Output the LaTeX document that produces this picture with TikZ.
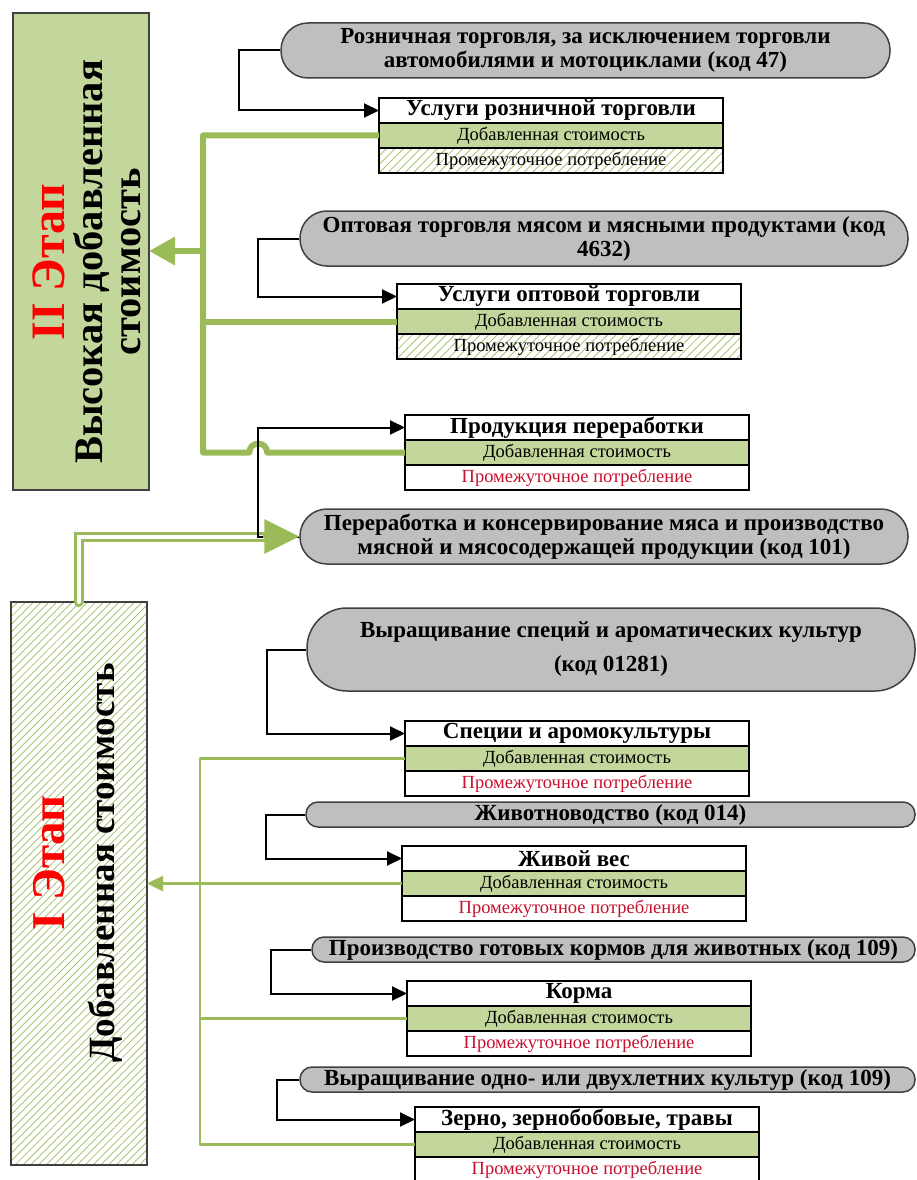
\documentclass[tikz,border=0pt]{standalone}
\usepackage{fontspec}
\setmainfont{Liberation Serif}
\usetikzlibrary{arrows.meta, positioning, calc, patterns.meta}
\definecolor{olivegrn}{HTML}{9BBB59}
\definecolor{lightgrn}{HTML}{C3D69B}
\definecolor{pillgray}{HTML}{BFBFBF}
\definecolor{edgegray}{HTML}{404040}
\definecolor{icred}{HTML}{C8102E}

\begin{document}
\begin{tikzpicture}[x=1pt, y=-1pt,
  stagebox/.style={rectangle, draw=edgegray, line width=1.5pt, inner sep=0pt, outer sep=0pt},
  stagetxt/.style={rotate=90, align=center, inner sep=0pt, font=\fontsize{40.5}{38}\selectfont\bfseries},
  act/.style={rectangle, draw=edgegray, line width=1.5pt, fill=pillgray, align=center,
    inner sep=0pt, font=\fontsize{23}{24}\selectfont\bfseries},
  prodhead/.style={rectangle, draw=black, line width=1.2pt, fill=white, minimum width=344pt,
    minimum height=25pt, inner sep=0pt, outer sep=0pt, font=\fontsize{23}{24}\selectfont\bfseries},
  prodva/.style={prodhead, fill=lightgrn, font=\fontsize{18.5}{20}\selectfont},
  prodic/.style={prodhead, text=icred, font=\fontsize{18.5}{20}\selectfont},
  prodich/.style={prodhead, fill=none, pattern={Lines[angle=45,distance=6pt,line width=0.7pt]},
    pattern color=olivegrn, font=\fontsize{18.5}{20}\selectfont},
  blk/.style={draw=black, line width=2pt, -{Triangle[length=15pt,width=14pt]}},
  vathick/.style={draw=olivegrn, line width=6pt, line join=round},
  vathin/.style={draw=olivegrn, line width=2.5pt, line join=round},
  vadbl/.style={draw=olivegrn, double=white, double distance=4pt, line width=3pt, line cap=round}]
  \useasboundingbox (0,0) rectangle (916,1180);

  % stages
  \node[stagebox, fill=lightgrn, anchor=north west, minimum width=136pt, minimum height=477pt] (stageII) at (13,13) {};
  \node[stagetxt] (stageIItxt) at (87,262) {{\color{red}\fontsize{48}{38}\selectfont II Этап}\\Высокая добавленная\\стоимость};
  \node[stagebox, pattern={Lines[angle=45,distance=5.5pt,line width=0.7pt]}, pattern color=olivegrn,
    anchor=north west, minimum width=136pt, minimum height=563pt] (stageI) at (11,602) {};
  \node[stagetxt, font=\fontsize{37}{38}\selectfont\bfseries] (stageItxt) at (78,863)
    {{\color{red}\fontsize{47}{38}\selectfont I Этап}\\[12pt]Добавленная стоимость};

  % activities
  \node[act, minimum width=609pt, minimum height=55pt, rounded corners=27pt] (g47) at (585.5,50.5)
    {Розничная торговля, за исключением торговли\\автомобилями и мотоциклами (код 47)};
  \node[act, minimum width=608pt, minimum height=55pt, rounded corners=27pt] (g4632) at (604,238.5)
    {Оптовая торговля мясом и мясными продуктами (код\\4632)};
  \node[act, minimum width=608pt, minimum height=55pt, rounded corners=27pt] (g101) at (604,536.5)
    {Переработка и консервирование мяса и производство\\мясной и мясосодержащей продукции (код 101)};
  \node[act, minimum width=608pt, minimum height=83pt, rounded corners=40pt] (g01281) at (611,649.5)
    {Выращивание специй и ароматических культур\\[10pt](код 01281)};
  \node[act, minimum width=609pt, minimum height=25pt, rounded corners=12pt] (g014) at (610.5,814.5)
    {Животноводство (код 014)};
  \node[act, minimum width=603pt, minimum height=25pt, rounded corners=12pt] (g109a) at (613.5,949.5)
    {Производство готовых кормов для животных (код 109)};
  \node[act, minimum width=615pt, minimum height=25pt, rounded corners=12pt] (g109b) at (607.5,1079.5)
    {Выращивание одно- или двухлетних культур (код 109)};

  % products
  \node[prodhead, anchor=north west] (ret) at (379,98) {Услуги розничной торговли};
  \node[prodva, below=0pt of ret] (retva) {Добавленная стоимость};
  \node[prodich, below=0pt of retva] (retic) {Промежуточное потребление};

  \node[prodhead, anchor=north west] (whs) at (397,284) {Услуги оптовой торговли};
  \node[prodva, below=0pt of whs] (whsva) {Добавленная стоимость};
  \node[prodich, below=0pt of whsva] (whsic) {Промежуточное потребление};

  \node[prodhead, anchor=north west] (proc) at (405,415) {Продукция переработки};
  \node[prodva, below=0pt of proc] (procva) {Добавленная стоимость};
  \node[prodic, below=0pt of procva] (procic) {Промежуточное потребление};

  \node[prodhead, anchor=north west] (spc) at (405,721) {Специи и аромокультуры};
  \node[prodva, below=0pt of spc] (spcva) {Добавленная стоимость};
  \node[prodic, below=0pt of spcva] (spcic) {Промежуточное потребление};

  \node[prodhead, anchor=north west] (live) at (402,846) {Живой вес};
  \node[prodva, below=0pt of live] (liveva) {Добавленная стоимость};
  \node[prodic, below=0pt of liveva] (liveic) {Промежуточное потребление};

  \node[prodhead, anchor=north west] (feed) at (407,981) {Корма};
  \node[prodva, below=0pt of feed] (feedva) {Добавленная стоимость};
  \node[prodic, below=0pt of feedva] (feedic) {Промежуточное потребление};

  \node[prodhead, anchor=north west] (grain) at (415,1107) {Зерно, зернобобовые, травы};
  \node[prodva, below=0pt of grain] (grainva) {Добавленная стоимость};
  \node[prodic, below=0pt of grainva] (grainic) {Промежуточное потребление};

  % black feeds
  \draw[blk] (g47.west) -- ++(-41,0) |- (ret.west);
  \draw[blk] (g4632.west) -- ++(-41,0) |- (whs.west);
  \draw[blk] (g01281.west) -- ++(-39,0) |- (spc.west);
  \draw[blk] (g014.west) -- ++(-39,0) |- (live.west);
  \draw[blk] (g109a.west) -- ++(-40,0) |- (feed.west);
  \draw[blk] (g109b.west) -- ++(-22,0) |- (grain.west);

  % value added, stage II
  \coordinate (busII) at (203,251);
  \coordinate (hop) at ($(g101.west)+(-41,0)$);
  \draw[vathick] (retva.west) -| (busII) -- (busII |- procva.west)
    -- ($(procva.west -| hop)+(-9,0)$) arc[start angle=180, end angle=360, radius=9] -- (procva.west);
  \draw[vathick] (whsva.west) -- (whsva.west -| busII);
  \draw[vathick, -{Triangle[length=26pt,width=27pt]}] (busII) -- (busII -| stageII.east);

  % value added, stage I
  \coordinate (busI) at (200,883);
  \draw[vathin] (spcva.west) -| (busI |- grainva.west) -- (grainva.west);
  \draw[vathin] (feedva.west) -- (feedva.west -| busI);
  \draw[vathin, -{Triangle[length=16pt,width=15pt]}] (liveva.west) -- (liveva.west -| stageI.east);

  % stage I to processing
  \coordinate (dbl) at (78.5,0);
  \draw[vadbl] (stageI.north -| dbl) |- ($(g101.west)+(-33,0)$);
  \draw[blk] (g101.west) -- (hop) |- (proc.west);
  \draw[draw=olivegrn, line width=3pt, -{Triangle[length=35pt,width=34pt]}] ($(g101.west)+(-36,0)$) -- (g101.west);
\end{tikzpicture}
\end{document}
